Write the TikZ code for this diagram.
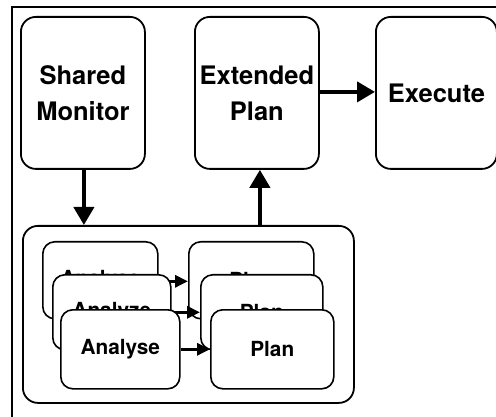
\documentclass[tikz,border=0pt]{standalone}
\usepackage{fontspec}
\setmainfont{TeX Gyre Heros}
\usetikzlibrary{arrows.meta}
\tikzset{
  bigbox/.style={draw, line width=1.8pt, rounded corners=15pt, fill=white,
    inner sep=0pt, anchor=north west, minimum height=152pt, align=center,
    font=\bfseries\fontsize{25.5}{36}\selectfont},
  innerbox/.style={draw, line width=1.6pt, rounded corners=12pt, fill=white,
    inner sep=0pt, anchor=north west, font=\bfseries\fontsize{20.8}{24}\selectfont},
  groupbox/.style={draw, line width=1.8pt, rounded corners=15pt, inner sep=0pt,
    anchor=north west, minimum width=331pt, minimum height=177pt},
  bigarrow/.style={line width=4pt, -{Triangle[length=18pt,width=20pt]}},
  smallarrow/.style={line width=3pt, -{Triangle[length=13pt,width=12pt]}}
}
\begin{document}
\begin{tikzpicture}[x=1pt,y=-1pt]
  \useasboundingbox (0,0) rectangle (496,417);
  % frame edges
  \coordinate (fbl) at (12,417);
  \coordinate (ftl) at (12,7);
  \coordinate (ftr) at (496,7);
  \draw[line width=1.5pt] (fbl) -- (ftl) -- (ftr);

  % top row
  \node[bigbox, minimum width=124pt] (sm) at (20,16) {Shared\\Monitor};
  \node[bigbox, minimum width=124pt] (ep) at (194,16) {Extended\\Plan};
  \node[bigbox, minimum width=121pt] (ex) at (375,16) {Execute};

  % grouping box
  \node[groupbox] (grp) at (22,225) {};

  % back layer
  \node[innerbox, minimum width=115pt, minimum height=77pt] (a1) at (42,241) {\raisebox{-3pt}{Analyse}};
  \node[innerbox, minimum width=125pt, minimum height=77pt] (p1) at (188,241) {\raisebox{-3pt}{Plan}};
  \draw[smallarrow] ([yshift=-1pt]a1.east) -- ([yshift=-1pt]p1.west);

  % middle layer
  \node[innerbox, minimum width=118pt, minimum height=75pt] (a2) at (52,274) {Analyze};
  \node[innerbox, minimum width=122pt, minimum height=75pt] (p2) at (200,274) {Plan};
  \draw[smallarrow] (a2.east) -- (p2.west);

  % front layer
  \node[innerbox, minimum width=119pt, minimum height=79pt] (a3) at (60,309) {Analyse};
  \node[innerbox, minimum width=123pt, minimum height=79pt] (p3) at (210,309) {Plan};
  \draw[smallarrow] (a3.east) -- (p3.west);

  % connectors
  \draw[bigarrow] ([xshift=1pt]sm.south) -- ([xshift=1pt]sm.south |- grp.north);
  \draw[bigarrow] ([xshift=3pt]ep.south |- grp.north) -- ([xshift=3pt]ep.south);
  \draw[bigarrow] ([yshift=1pt]ep.east) -- ([yshift=1pt]ep.east -| ex.west);
\end{tikzpicture}
\end{document}
